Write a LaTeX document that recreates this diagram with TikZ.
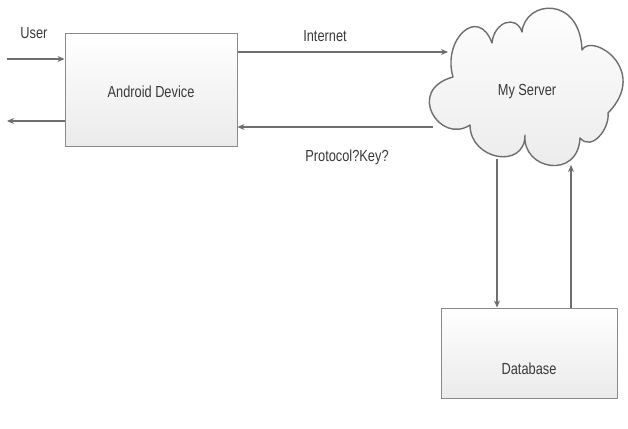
\documentclass[tikz,border=0pt]{standalone}
\usepackage{fontspec}
\newfontfamily\labfont[FakeStretch=0.8]{Liberation Sans}
\usetikzlibrary{arrows.meta}
\definecolor{linec}{HTML}{6E6E6E}
\definecolor{boxc}{HTML}{8A8A8A}
\definecolor{txtc}{HTML}{3A3A3A}
\tikzset{
  conn/.style={draw=linec,line width=1.1pt,-{Stealth[length=7pt,width=6pt]}},
  boxnode/.style={draw=boxc,line width=1pt,top color=white,bottom color=black!8,
    inner sep=0pt,text=txtc,font=\labfont\fontsize{16}{18}\selectfont},
  lbl/.style={text=txtc,font=\labfont\fontsize{16}{18}\selectfont,inner sep=0pt},
  cloudpath/.style={draw=linec,line width=1.4pt,top color=white,bottom color=black!8,line join=round}
}
\begin{document}
\begin{tikzpicture}[x=1pt,y=-1pt]
\useasboundingbox[fill=white] (0,0) rectangle (628,428);
\node[boxnode,minimum width=172pt,minimum height=112pt] (and) at (151,90) {};
\node[lbl] (andt) at (151,92) {Android Device};
\node[boxnode,minimum width=176pt,minimum height=90pt] (db) at (529,353) {};
\node[lbl] (dbt) at (529,369) {Database};
% cloud
\path[cloudpath] (453,77)
  .. controls (442,40) and (478,5) .. (492,43)
  .. controls (494,22) and (516,14) .. (522,32)
  .. controls (525,0) and (580,-5) .. (582,50)
  .. controls (592,32) and (650,70) .. (608,113)
  .. controls (610,128) and (592,152) .. (580,138)
  .. controls (578,180) and (522,170) .. (525,135)
  .. controls (525,170) and (470,160) .. (470,125)
  .. controls (440,145) and (405,90) .. cycle;
\node[lbl] (srv) at (527,92) {My Server};
\node[lbl] (user) at (34,33) {User};
\node[lbl] (inet) at (325,36) {Internet};
\node[lbl] (prot) at (347,157) {Protocol?Key?};
\coordinate (uin) at (7,59);
\coordinate (uout) at (7,121);
\coordinate (sin) at (448,52);
\coordinate (sout) at (433,127);
\coordinate (sdown) at (497,159);
\coordinate (sup2) at (571,165);
\draw[conn] (uin) -- (uin -| and.west);
\draw[conn] (uout -| and.west) -- (uout);
\draw[conn] (sin -| and.east) -- (sin);
\draw[conn] (sout) -- (sout -| and.east);
\draw[conn] (sdown) -- (sdown |- db.north);
\draw[conn] (sup2 |- db.north) -- (sup2);
\end{tikzpicture}
\end{document}
